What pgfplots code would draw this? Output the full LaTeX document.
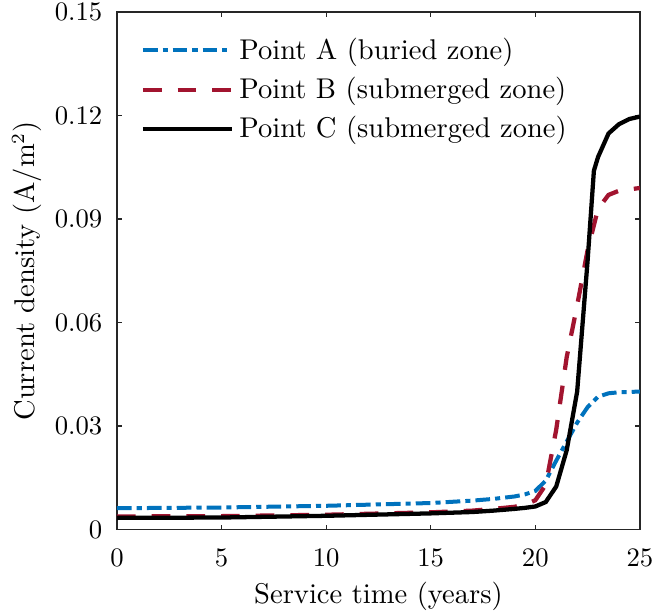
\documentclass[border=0pt]{standalone}
\usepackage{pgfplots}
\pgfplotsset{compat=1.18}
\definecolor{mblue}{rgb}{0,0.447,0.741}
\definecolor{mred}{rgb}{0.635,0.078,0.184}
\definecolor{axgray}{rgb}{0.15,0.15,0.15}
\begin{document}
\begin{tikzpicture}
\begin{axis}[
  scale only axis,
  width=196pt, height=194pt,
  xmin=0, xmax=25, ymin=0, ymax=0.15,
  xtick={0,5,10,15,20,25},
  ytick={0,0.03,0.06,0.09,0.12,0.15},
  yticklabels={0,0.03,0.06,0.09,0.12,0.15},
  tick align=inside,
  major tick length=1.9pt,
  axis line style={line width=0.45pt, draw=axgray},
  every tick/.style={axgray, line width=0.45pt},
  xticklabel style={yshift=-4pt},
  yticklabel style={xshift=-2pt},
  xlabel={Service time (years)},
  ylabel={Current density (A/m$^2$)},
  label style={font=\fontsize{10.7}{12.8}\selectfont},
  xlabel style={yshift=1pt},
  ylabel style={yshift=-2pt},
  legend style={draw=none, fill=none, at={(0.029,0.972)}, anchor=north west,
    row sep=1.2pt, font=\fontsize{10.7}{12.8}\selectfont},
  legend cell align=left,
  legend image code/.code={\draw[#1] (0pt,0pt) -- (33.4pt,0pt);},
]
\addplot[mblue, line width=1.5pt, dash pattern=on 5.5pt off 1.9pt on 1.9pt off 1.9pt] coordinates {
(0,0.0062) (5,0.0064) (10,0.0069) (15,0.0077) (17,0.0084) (18,0.0089) (19,0.0096) (19.5,0.0102) (20,0.0112) (20.5,0.0142) (21,0.0200) (21.5,0.0255) (22,0.0310) (22.5,0.0355) (23,0.0385) (23.5,0.0395) (24,0.0398) (25,0.0400)
};
\addlegendentry{Point A (buried zone)}
\addplot[mred, line width=1.6pt, dash pattern=on 7pt off 6pt] coordinates {
(0,0.0038) (5,0.0039) (10,0.0043) (15,0.0050) (17,0.0055) (18,0.0060) (19,0.0066) (19.5,0.0072) (20,0.0085) (20.5,0.0130) (21,0.0290) (21.5,0.0500) (22,0.0650) (22.5,0.0810) (23,0.0930) (23.5,0.0970) (24,0.0982) (25,0.0990)
};
\addlegendentry{Point B (submerged zone)}
\addplot[black, line width=1.6pt] coordinates {
(0,0.0034) (5,0.0035) (10,0.0040) (15,0.0047) (17,0.0051) (18,0.0055) (19,0.0060) (19.5,0.0063) (20,0.0067) (20.5,0.0080) (21,0.0125) (21.5,0.0230) (22,0.0400) (22.5,0.0780) (22.8,0.1040) (23,0.1080) (23.5,0.1148) (24,0.1175) (24.5,0.1190) (25,0.1197)
};
\addlegendentry{Point C (submerged zone)}
\end{axis}
\pgfresetboundingbox
\path (-43.85pt,-32.2pt) rectangle (200.9pt,198.5pt);
\end{tikzpicture}
\end{document}
